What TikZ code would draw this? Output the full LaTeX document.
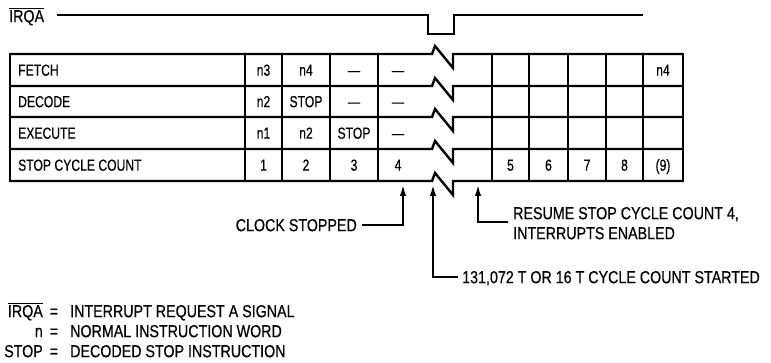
\documentclass[tikz,border=0pt]{standalone}
\usepackage{fontspec}
\setmainfont{Liberation Sans}[FakeStretch=0.84]
\newfontfamily\tabfam{Liberation Sans}[Ligatures=TeX, FakeStretch=0.76, FakeBold=0.4]
\newfontfamily\annfam{Liberation Sans}[Ligatures=TeX, FakeStretch=0.82, FakeBold=0.4]
\usetikzlibrary{arrows.meta}
\newcommand\tabfont{\tabfam\fontsize{16}{18}\selectfont}
\newcommand\annfont{\annfam\fontsize{17.4}{19}\selectfont}
\tikzset{
  tbl/.style={line width=2.4pt, line join=miter, miter limit=4},
  col/.style={line width=1.9pt},
  sig/.style={line width=1.9pt},
  cell/.style={font=\tabfont, inner sep=0pt, text height=11.4pt, text depth=0pt, anchor=center},
  rowlbl/.style={cell, anchor=west},
  lbl/.style={font=\annfont, inner sep=0pt, text height=12.4pt, text depth=0pt},
  conn/.style={line width=1.8pt},
  arr/.style={conn, -{Latex[length=11pt,width=6.5pt]}}
}
\begin{document}
\begin{tikzpicture}[x=1pt,y=-1pt]
\useasboundingbox (0,0) rectangle (771,363);

% IRQA signal
\node[lbl, anchor=west] (irqa) at (9,16) {$\overline{\mbox{\annfont IRQA}}$};
\coordinate (w0) at (57,15);
\coordinate (w1) at (643,15);
\draw[sig] (w0) -- (428,15) -- (428,34) -- (454,34) -- (454,15) -- (w1);

% table grid
\foreach \y in {54,86,117,149,181} {
  \draw[tbl] (10,\y) -- (432,\y) -- (435,\y-8) -- (453,\y+14) -- (453,\y) -- (683,\y);
}
\foreach \x in {245,282,330,378,492,529,568,606,643} {
  \draw[col] (\x,54) -- (\x,181);
}
\draw[tbl] (10,52.8) -- (10,182.2);
\draw[tbl] (683,52.8) -- (683,182.2);

% row labels
\node[rowlbl] (rF) at (18,70)    {FETCH};
\node[rowlbl] (rD) at (18,101.5) {DECODE};
\node[rowlbl] (rE) at (18,133)   {EXECUTE};
\node[rowlbl] (rS) at (18,165)   {STOP CYCLE COUNT};

% cells
\node[cell] (f1) at (263.5,70) {n3};
\node[cell] (f2) at (306,70)   {n4};
\node[cell] (f3) at (354,70)   {\textemdash};
\node[cell] (f4) at (398,70)   {\textemdash};
\node[cell] (f9) at (663,70)   {n4};

\node[cell] (d1) at (263.5,101.5) {n2};
\node[cell] (d2) at (306,101.5)   {STOP};
\node[cell] (d3) at (354,101.5)   {\textemdash};
\node[cell] (d4) at (398,101.5)   {\textemdash};

\node[cell] (e1) at (263.5,133) {n1};
\node[cell] (e2) at (306,133)   {n2};
\node[cell] (e3) at (354,133)   {STOP};
\node[cell] (e4) at (398,133)   {\textemdash};

\node[cell] (s1) at (263.5,165) {1};
\node[cell] (s2) at (306,165)   {2};
\node[cell] (s3) at (354,165)   {3};
\node[cell] (s4) at (398,165)   {4};
\node[cell] (s5) at (510.5,165) {5};
\node[cell] (s6) at (548.5,165) {6};
\node[cell] (s7) at (587,165)   {7};
\node[cell] (s8) at (624.5,165) {8};
\node[cell] (s9) at (663,165)   {(9)};

% annotations
\coordinate (a1) at (403,185);
\coordinate (a2) at (433,185);
\coordinate (a3) at (478,185);

\node[lbl, anchor=east] (clk) at (357,225) {CLOCK STOPPED};
\coordinate (k0) at (362,225);
\draw[arr] (k0) -| (a1);

\node[lbl, anchor=west] (res1) at (513,213) {RESUME STOP CYCLE COUNT 4,};
\node[lbl, anchor=west] (res2) at (513,233) {INTERRUPTS ENABLED};
\coordinate (r0) at (508,222);
\draw[arr] (r0) -| (a3);

\node[lbl, anchor=west] (cnt) at (462,277) {131,072 T OR 16 T CYCLE COUNT STARTED};
\coordinate (c0) at (458,277);
\draw[arr] (c0) -| (a2);

% legend
\node[lbl, anchor=east] (l1) at (43,311) {$\overline{\mbox{\annfont IRQA}}$};
\node[lbl] (q1) at (54,311) {=};
\node[lbl, anchor=west] (t1) at (70,311) {INTERRUPT REQUEST A SIGNAL};
\node[lbl, anchor=east] (l2) at (43,331) {n};
\node[lbl] (q2) at (54,331) {=};
\node[lbl, anchor=west] (t2) at (70,331) {NORMAL INSTRUCTION WORD};
\node[lbl, anchor=east] (l3) at (43,351) {STOP};
\node[lbl] (q3) at (54,351) {=};
\node[lbl, anchor=west] (t3) at (70,351) {DECODED STOP INSTRUCTION};
\end{tikzpicture}
\end{document}
